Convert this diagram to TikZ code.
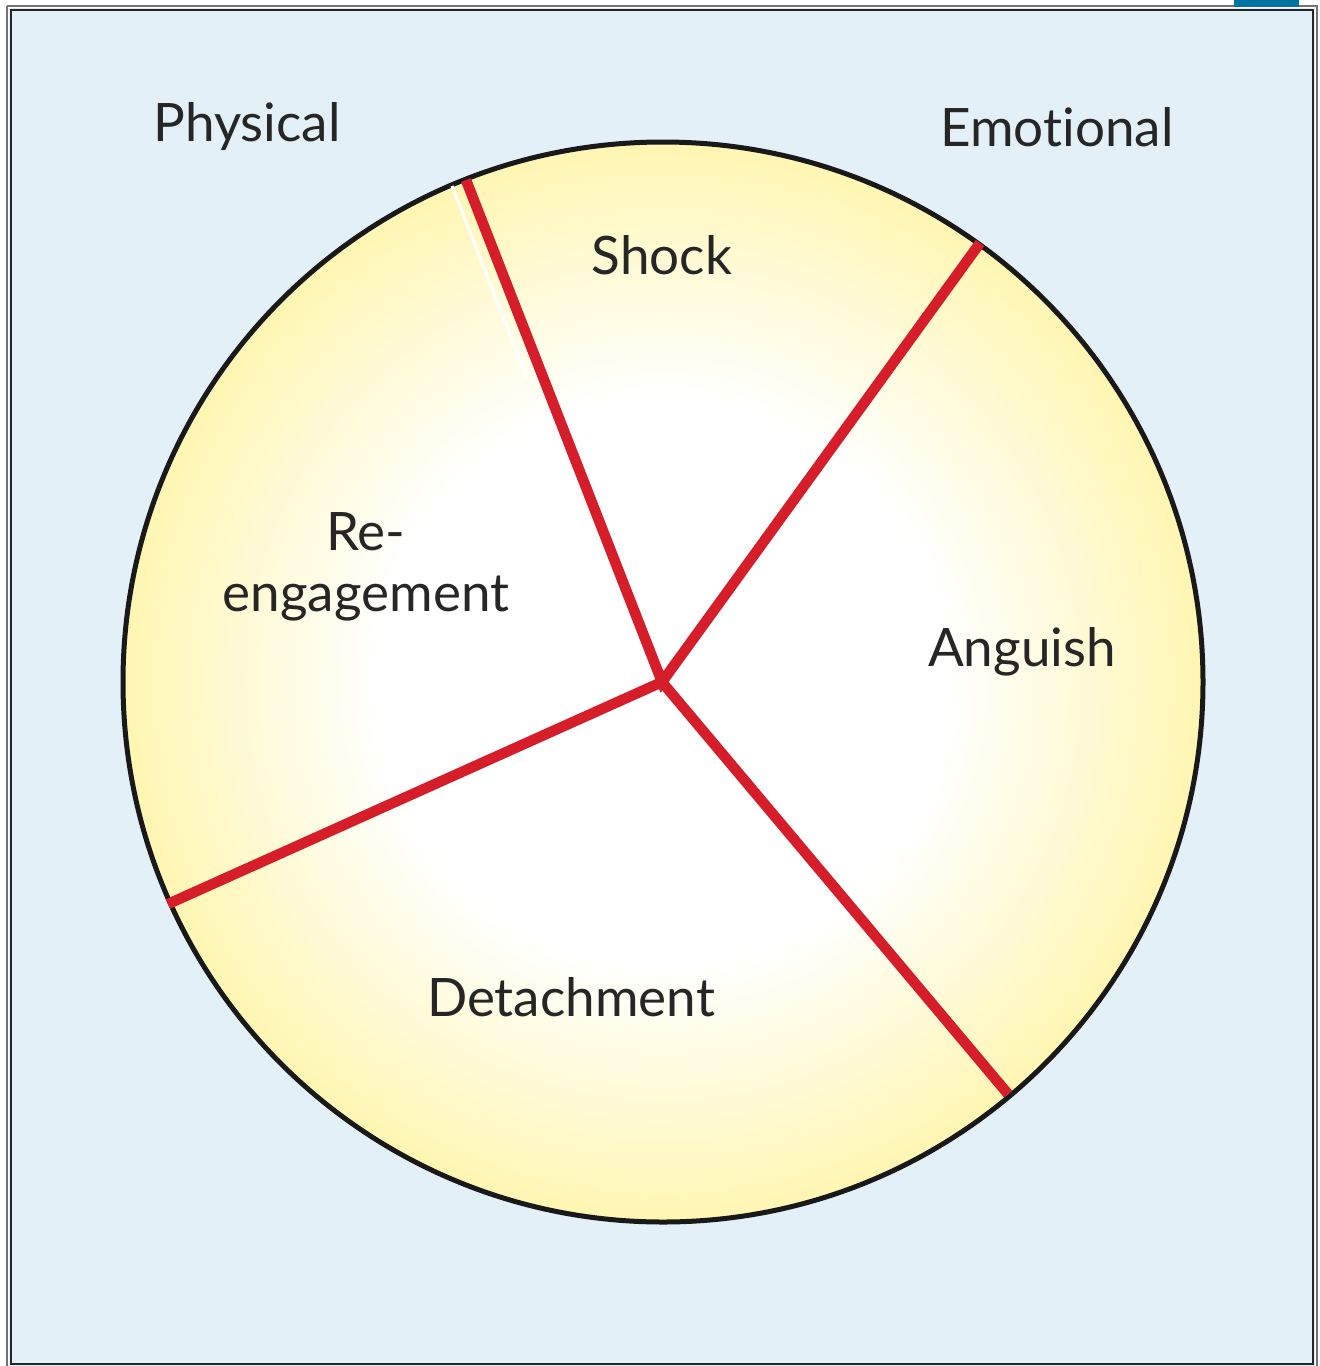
\documentclass[tikz,border=0pt]{standalone}
\usepackage{fontspec}
\setmainfont[Ligatures=NoCommon]{Lato}
\definecolor{bgblue}{RGB}{227,240,248}
\definecolor{pieyellow}{RGB}{255,246,178}
\definecolor{redline}{RGB}{214,30,42}
\definecolor{tabblue}{RGB}{0,115,160}
\pgfdeclareradialshading{pieshade}{\pgfpoint{0bp}{0bp}}{%
  color(0bp)=(white); color(13bp)=(white); color(25bp)=(pieyellow); color(50bp)=(pieyellow)}
\tikzset{
  lab/.style={font=\fontsize{53}{61}\selectfont, text=black!85, align=center, inner sep=0pt},
  divider/.style={draw=redline, line width=10.5pt, line cap=butt},
}
\begin{document}
\begin{tikzpicture}[x=1pt,y=-1pt]
\useasboundingbox (0,0) rectangle (1320,1366);
\fill[bgblue] (9,8) rectangle (1315,1366);
\draw[black!55, line width=2pt] (7,6) -- (1317,6) -- (1317,1370);
\draw[black!55, line width=2pt] (7,1370) -- (7,6);
\draw[black!85, line width=2.5pt] (11,1364) -- (11,10) -- (1313,10) -- (1313,1364) -- cycle;
\fill[tabblue] (1234,0) rectangle (1299,7);
\coordinate (c) at (663,682);
\shade[shading=pieshade] (c) circle (540);
\node[circle, minimum size=1080pt, inner sep=0pt, draw=black!90, line width=5pt] (pie) at (c) {};
\coordinate (o) at (662,682);
\coordinate (w1) at (452,186);
\coordinate (w2) at (527,378);
\draw[white, line width=3pt] (w1) -- (w2);
\coordinate (p1) at (466,180);
\coordinate (p2) at (980,243);
\coordinate (p3) at (1008,1094);
\coordinate (p4) at (168,904);
\draw[divider] (p1) -- (o) -- (p2);
\draw[divider] (p3) -- (o) -- (p4);
\node[lab] (phys) at (247,127) {Physical};
\node[lab] (emo) at (1057,127) {Emotional};
\node[lab] (shock) at (662,255) {Shock};
\node[lab] (reeng) at (366,567) {Re-\\engagement};
\node[lab] (ang) at (1022,652) {Anguish};
\node[lab] (det) at (571,997) {Detachment};
\end{tikzpicture}
\end{document}
